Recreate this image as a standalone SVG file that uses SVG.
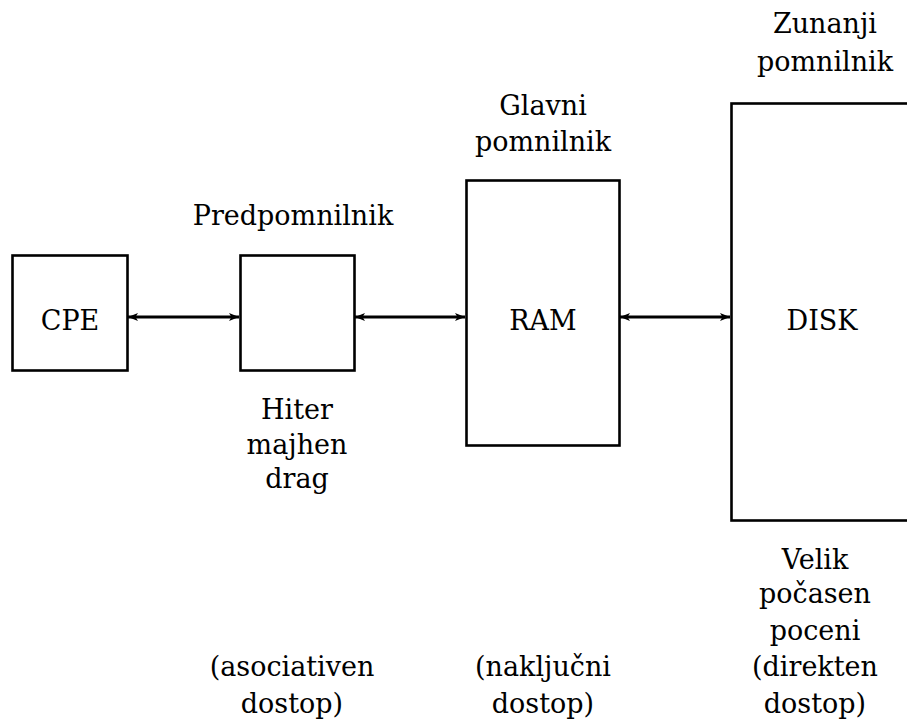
<svg xmlns="http://www.w3.org/2000/svg" width="907" height="724" viewBox="0 0 907 724">
  <style>
    .box { fill: none; stroke: #000; stroke-width: 2.6; }
    .link { stroke: #000; stroke-width: 3; fill: none; marker-start: url(#tip); marker-end: url(#tip); }
    text { font-family: "DejaVu Serif", "Liberation Serif", serif; font-size: 27px; fill: #000; text-anchor: middle; }
  </style>
  <defs>
    <!-- small filled arrowhead used at both ends of every link -->
    <marker id="tip" viewBox="0 0 10 8" refX="10" refY="4" markerWidth="10" markerHeight="8" markerUnits="userSpaceOnUse" orient="auto-start-reverse">
      <path d="M0,0 L10,4 L0,8 L2.5,4 Z" fill="#000"/>
    </marker>
  </defs>
  <rect width="907" height="724" fill="#fff"/>

  <g id="connectors">
    <line class="link" x1="128" y1="317" x2="239" y2="317"/>
    <line class="link" x1="355" y1="317" x2="465" y2="317"/>
    <line class="link" x1="620" y1="317" x2="730" y2="317"/>
  </g>

  <g id="cpe">
    <rect class="box" x="12.5" y="255.5" width="115" height="115"/>
    <text x="70" y="330">CPE</text>
  </g>

  <g id="cache">
    <rect class="box" x="240.5" y="255.5" width="114" height="115"/>
    <text x="293" y="225">Predpomnilnik</text>
    <text x="297" y="419">Hiter</text>
    <text x="297" y="454">majhen</text>
    <text x="297" y="488">drag</text>
    <text x="292" y="676">(asociativen</text>
    <text x="292" y="713">dostop)</text>
  </g>

  <g id="ram">
    <rect class="box" x="466.5" y="180.5" width="153" height="265"/>
    <text x="543" y="330">RAM</text>
    <text x="543" y="115">Glavni</text>
    <text x="543" y="151">pomnilnik</text>
    <text x="543" y="676">(naključni</text>
    <text x="543" y="713">dostop)</text>
  </g>

  <g id="disk">
    <rect class="box" x="731.5" y="103.5" width="190" height="417"/>
    <text x="822" y="330">DISK</text>
    <text x="825" y="33">Zunanji</text>
    <text x="825" y="71">pomnilnik</text>
    <text x="815" y="569">Velik</text>
    <text x="815" y="603">počasen</text>
    <text x="815" y="640">poceni</text>
    <text x="815" y="676">(direkten</text>
    <text x="815" y="713">dostop)</text>
  </g>
</svg>
